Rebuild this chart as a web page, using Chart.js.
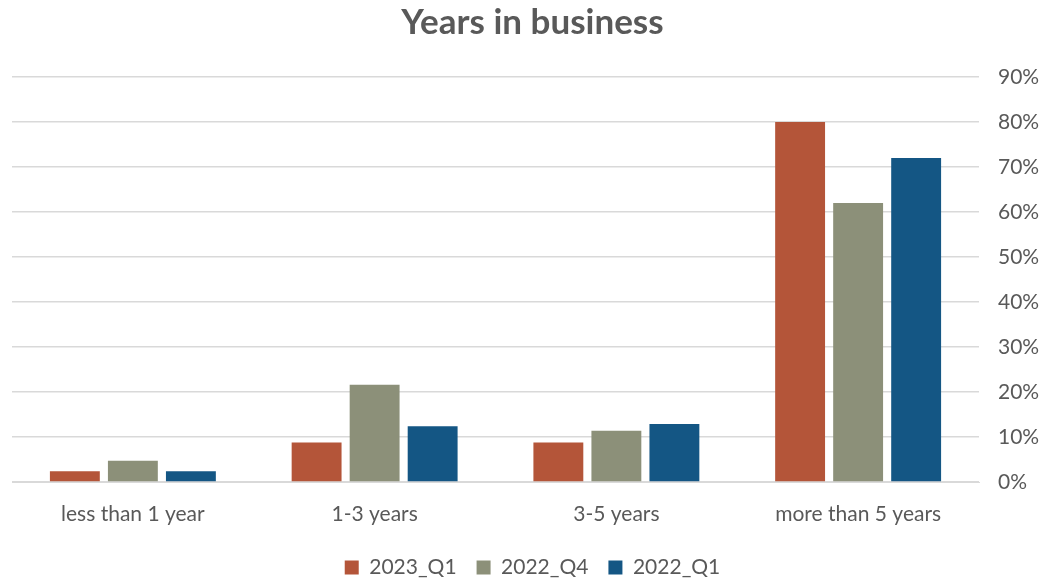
<!DOCTYPE html>
<html>
<head>
<meta charset="utf-8">
<script src="https://cdn.jsdelivr.net/npm/chart.js@4"></script>
<style>
  html, body { margin: 0; padding: 0; background: #fff; }
  #wrap { width: 1053px; height: 580px; }
</style>
</head>
<body>
<div id="wrap"><canvas id="chart"></canvas></div>
<script>
// Years in business - grupperede søjler
const categories = ['less than 1 year', '1-3 years', '3-5 years', 'more than 5 years'];
const seriesNames = ['2023_Q1', '2022_Q4', '2022_Q1'];
const values2023Q1 = [2.4, 8.8, 8.8, 80];
const values2022Q4 = [4.7, 21.6, 11.4, 62];
const values2022Q1 = [2.4, 12.4, 12.9, 72];
const colors = ['#b45539', '#8c9079', '#145684'];

const ctx = document.getElementById('chart').getContext('2d');
const font = 'Lato, Calibri, "Open Sans", sans-serif';
const textColor = '#595959';

new Chart(ctx, {
    type: 'bar',
    data: {
        labels: categories,
        datasets: [values2023Q1, values2022Q4, values2022Q1].map((vals, i) => ({
            label: seriesNames[i],
            data: vals,
            backgroundColor: colors[i],
            categoryPercentage: 0.72,
            barPercentage: 0.86
        }))
    },
    options: {
        responsive: true,
        maintainAspectRatio: false,
        animation: false,
        layout: { padding: { left: 12, right: 0, top: 0, bottom: -8 } },
        plugins: {
            title: {
                display: true,
                text: 'Years in business',
                color: textColor,
                font: { family: font, size: 35, weight: 'bold' },
                padding: { top: 2, bottom: 33 }
            },
            legend: {
                position: 'bottom',
                labels: {
                    color: textColor,
                    font: { family: font, size: 21 },
                    boxWidth: 14,
                    boxHeight: 14,
                    padding: 20
                }
            },
            tooltip: { enabled: false }
        },
        scales: {
            x: {
                grid: { display: false },
                border: { display: true, color: '#d9d9d9' },
                ticks: { color: textColor, font: { family: font, size: 21 }, padding: 12 },
                afterFit: scale => { scale.height = 55; }
            },
            y: {
                position: 'right',
                min: 0,
                max: 90,
                ticks: {
                    stepSize: 10,
                    color: textColor,
                    font: { family: font, size: 21 },
                    padding: 19,
                    callback: v => v + '%'
                },
                grid: { color: '#d9d9d9', lineWidth: 1.5, drawTicks: false, tickLength: 0 },
                border: { display: false },
                afterFit: scale => { scale.width = 74; }
            }
        }
    }
});
</script>
</body>
</html>
